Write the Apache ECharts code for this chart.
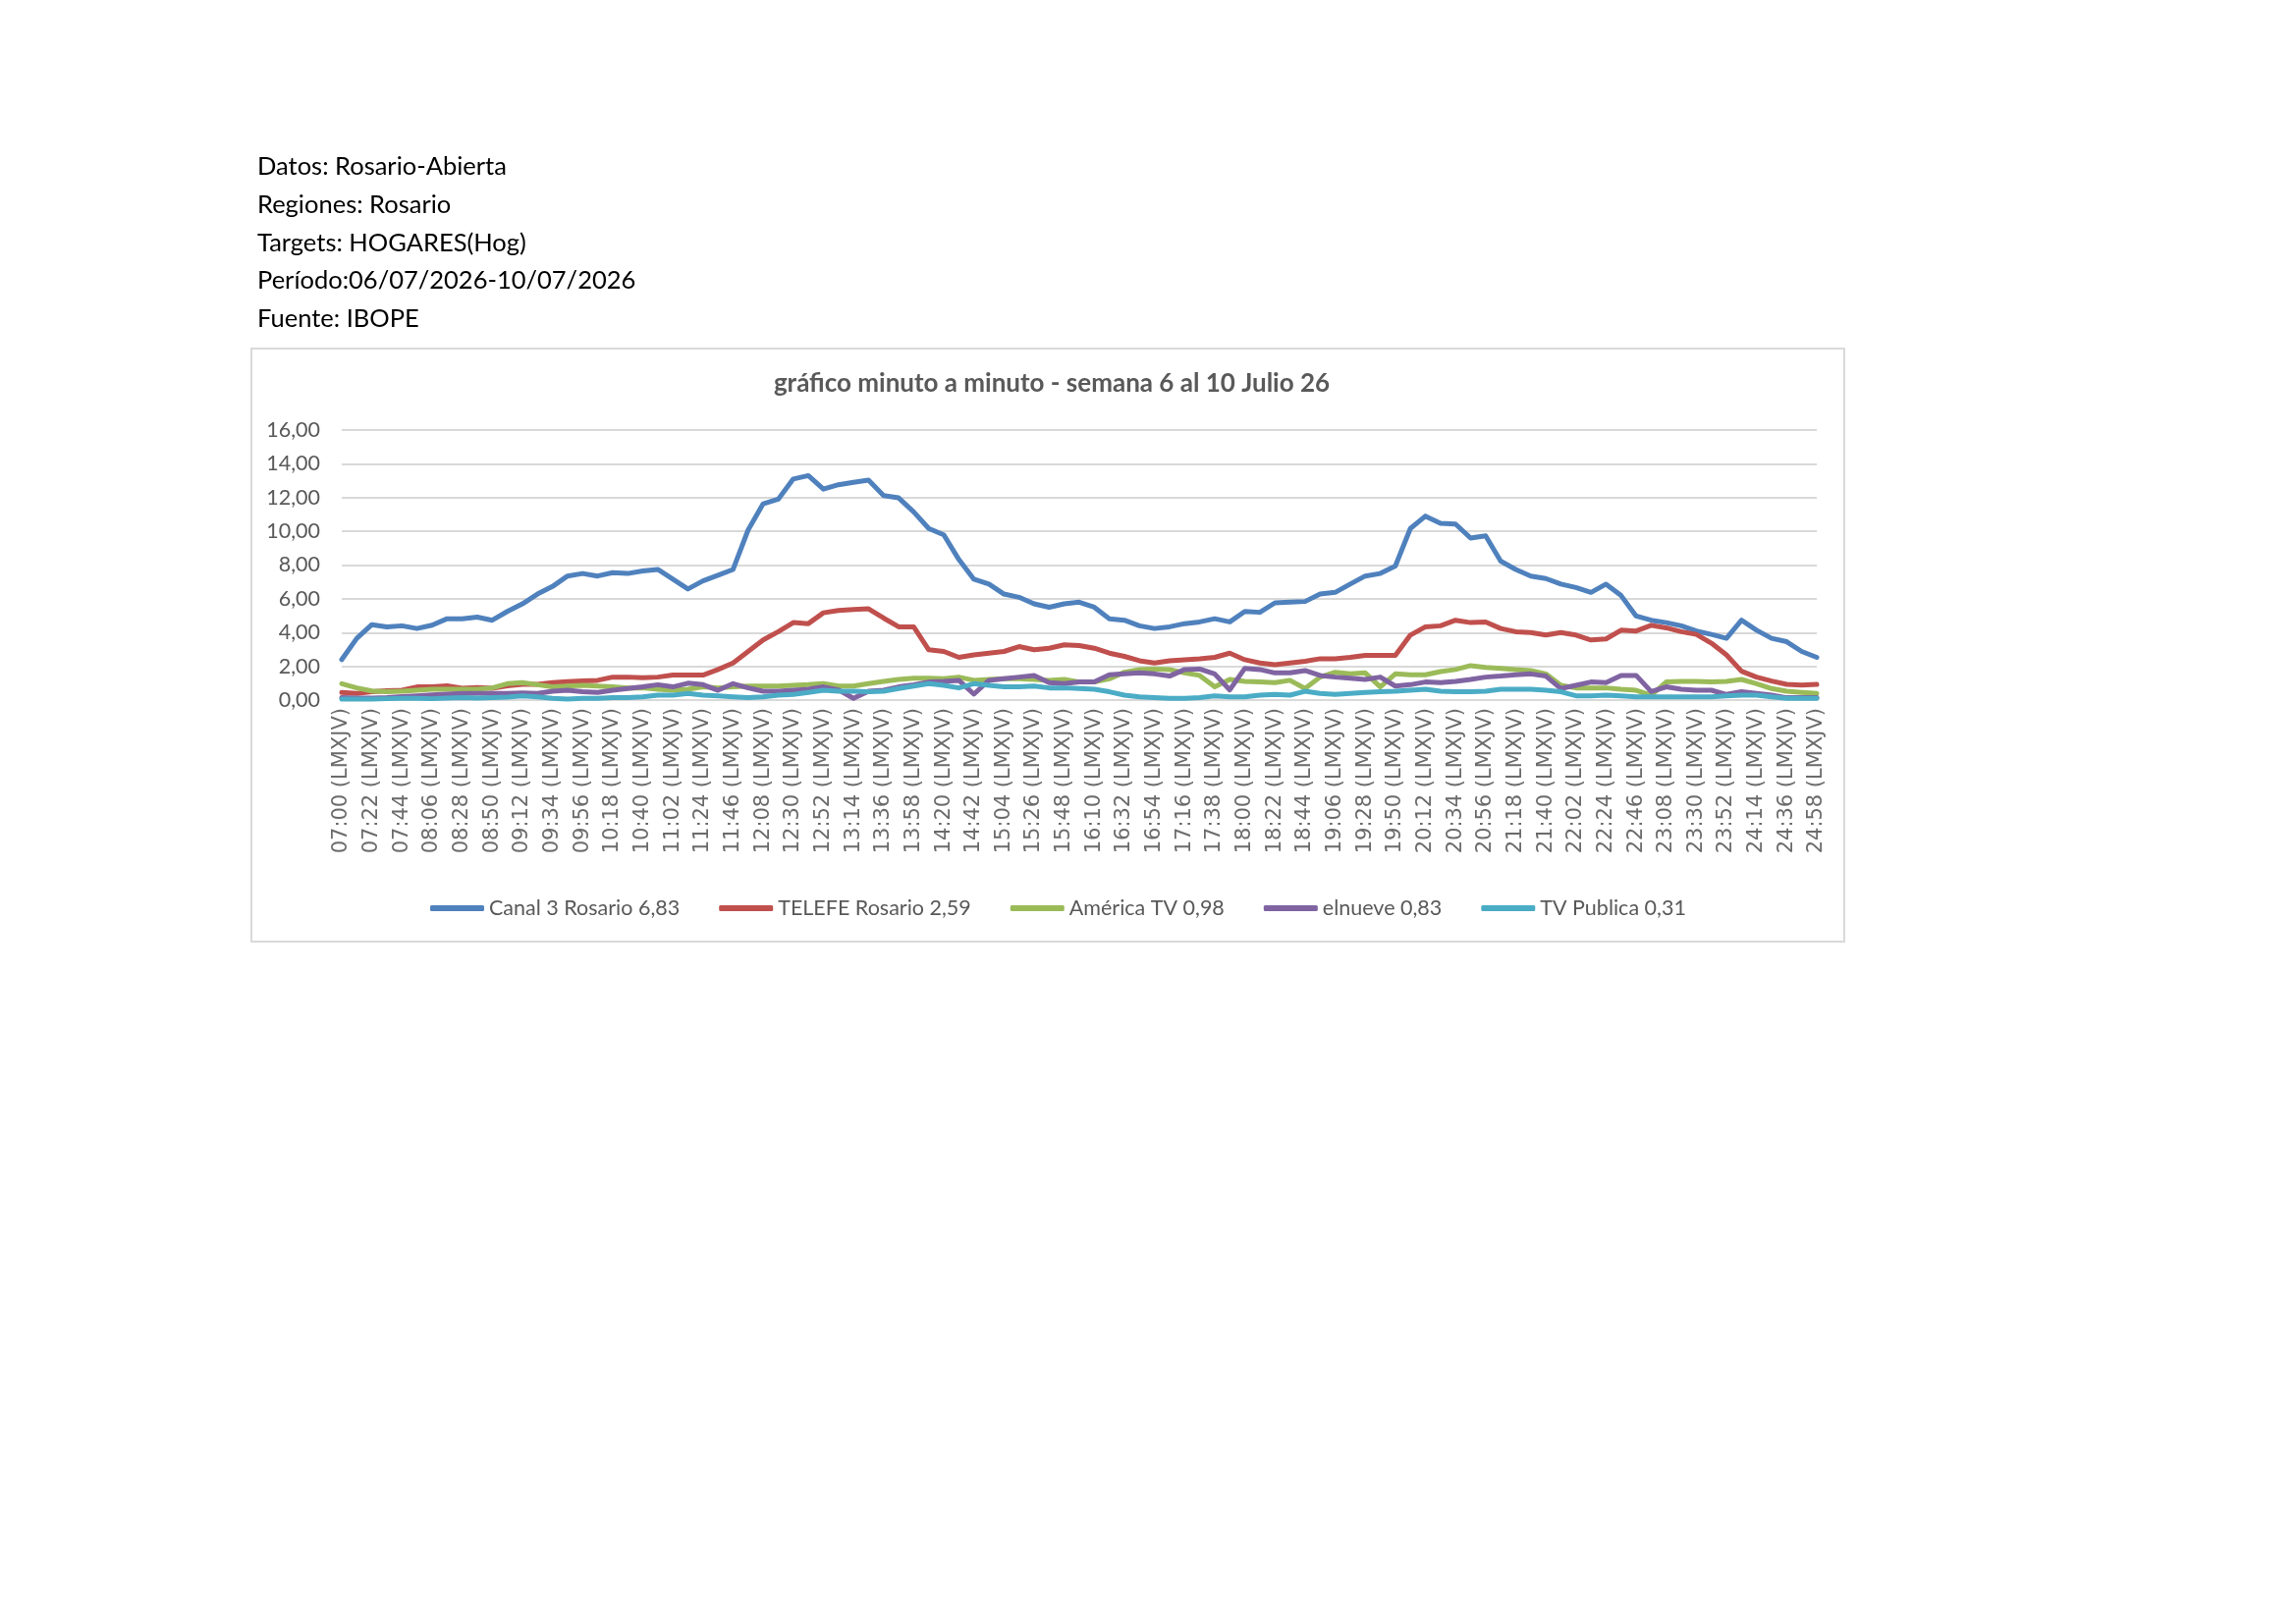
<!DOCTYPE html>
<html>
<head>
<meta charset="utf-8">
<title>gráfico minuto a minuto</title>
<script src="https://cdn.jsdelivr.net/npm/echarts@6/dist/echarts.min.js"></script>
<style>
  html, body { margin: 0; padding: 0; background: #fff; }
  #chart { width: 2338px; height: 1653px; }
</style>
</head>
<body>
<div id="chart"></div>
<script>
// minutes after 07:00, sampled every 11 minutes (07:00 .. 24:58)
const MINUTES = [
  0, 11, 22, 33, 44, 55, 66, 77, 88, 99,
  110, 121, 132, 143, 154, 165, 176, 187, 198, 209,
  220, 231, 242, 253, 264, 275, 286, 297, 308, 319,
  330, 341, 352, 363, 374, 385, 396, 407, 418, 429,
  440, 451, 462, 473, 484, 495, 506, 517, 528, 539,
  550, 561, 572, 583, 594, 605, 616, 627, 638, 649,
  660, 671, 682, 693, 704, 715, 726, 737, 748, 759,
  770, 781, 792, 803, 814, 825, 836, 847, 858, 869,
  880, 891, 902, 913, 924, 935, 946, 957, 968, 979,
  990, 1001, 1012, 1023, 1034, 1045, 1056, 1067, 1078
];

const CANAL3 = [
  2.4, 3.66, 4.47, 4.34, 4.4, 4.24, 4.44, 4.82, 4.82, 4.92,
  4.73, 5.25, 5.7, 6.28, 6.73, 7.35, 7.5, 7.35, 7.55, 7.5,
  7.65, 7.74, 7.16, 6.58, 7.06, 7.4, 7.74, 10.08, 11.63, 11.9,
  13.1, 13.3, 12.5, 12.76, 12.9, 13.03, 12.12, 11.98, 11.15, 10.17,
  9.79, 8.33, 7.16, 6.87, 6.28, 6.09, 5.7, 5.5, 5.7, 5.8,
  5.5, 4.82, 4.73, 4.4, 4.24, 4.34, 4.53, 4.63, 4.82, 4.63,
  5.25, 5.2, 5.76, 5.8, 5.84, 6.28, 6.38, 6.87, 7.35, 7.5,
  7.94, 10.17, 10.9, 10.47, 10.43, 9.6, 9.73, 8.23, 7.74, 7.35,
  7.2, 6.87, 6.67, 6.38, 6.87, 6.19, 4.98, 4.73, 4.59, 4.4,
  4.09, 3.89, 3.66, 4.73, 4.14, 3.66, 3.46, 2.88, 2.53
];

const TELEFE = [
  0.45, 0.39, 0.5, 0.55, 0.58, 0.78, 0.78, 0.84, 0.7, 0.74,
  0.7, 0.84, 0.93, 0.93, 1.03, 1.09, 1.13, 1.17, 1.36, 1.36,
  1.32, 1.36, 1.48, 1.48, 1.48, 1.81, 2.2, 2.88, 3.56, 4.05,
  4.59, 4.53, 5.17, 5.31, 5.37, 5.41, 4.86, 4.34, 4.34, 2.98,
  2.88, 2.53, 2.68, 2.78, 2.88, 3.17, 2.98, 3.07, 3.27, 3.23,
  3.07, 2.78, 2.59, 2.33, 2.2, 2.33, 2.39, 2.45, 2.53, 2.78,
  2.39, 2.2, 2.1, 2.2, 2.3, 2.45, 2.45, 2.53, 2.65, 2.65,
  2.65, 3.85, 4.34, 4.4, 4.73, 4.59, 4.63, 4.24, 4.05, 4.0,
  3.85, 4.0, 3.85, 3.56, 3.62, 4.14, 4.09, 4.43, 4.28, 4.05,
  3.89, 3.37, 2.68, 1.71, 1.36, 1.13, 0.93, 0.89, 0.93
];

const AMERICA = [
  0.97, 0.72, 0.54, 0.49, 0.52, 0.58, 0.64, 0.64, 0.64, 0.64,
  0.72, 0.97, 1.03, 0.91, 0.78, 0.83, 0.87, 0.83, 0.78, 0.72,
  0.72, 0.64, 0.58, 0.64, 0.78, 0.72, 0.78, 0.83, 0.83, 0.83,
  0.87, 0.91, 0.97, 0.83, 0.83, 0.97, 1.11, 1.22, 1.3, 1.3,
  1.26, 1.36, 1.17, 1.22, 1.26, 1.26, 1.22, 1.17, 1.22, 1.07,
  1.07, 1.26, 1.65, 1.81, 1.84, 1.81, 1.61, 1.46, 0.78, 1.22,
  1.11, 1.07, 1.03, 1.17, 0.68, 1.36, 1.65, 1.55, 1.61, 0.78,
  1.55, 1.5, 1.5, 1.69, 1.81, 2.04, 1.94, 1.88, 1.81, 1.75,
  1.55, 0.87, 0.72, 0.72, 0.72, 0.64, 0.58, 0.29, 1.07, 1.11,
  1.11, 1.07, 1.11, 1.22, 0.97, 0.68, 0.52, 0.45, 0.39
];

const ELNUEVE = [
  0.15, 0.12, 0.12, 0.15, 0.2, 0.25, 0.3, 0.35, 0.39, 0.4,
  0.4, 0.4, 0.42, 0.39, 0.52, 0.58, 0.49, 0.45, 0.58, 0.68,
  0.78, 0.91, 0.78, 1.0, 0.91, 0.58, 0.97, 0.72, 0.52, 0.52,
  0.58, 0.64, 0.78, 0.6, 0.1, 0.52, 0.58, 0.78, 0.91, 1.07,
  1.11, 1.17, 0.35, 1.17, 1.26, 1.36, 1.46, 1.03, 0.97, 1.07,
  1.07, 1.5, 1.55, 1.61, 1.55, 1.42, 1.81, 1.84, 1.55, 0.6,
  1.88, 1.81, 1.61, 1.61, 1.75, 1.46, 1.36, 1.3, 1.22, 1.36,
  0.83, 0.91, 1.07, 1.03, 1.11, 1.22, 1.36, 1.42, 1.5, 1.55,
  1.42, 0.68, 0.87, 1.07, 1.03, 1.46, 1.46, 0.5, 0.78, 0.64,
  0.58, 0.58, 0.33, 0.49, 0.39, 0.29, 0.14, 0.14, 0.14
];

const TVPUBLICA = [
  0.06, 0.06, 0.06, 0.08, 0.1, 0.1, 0.08, 0.12, 0.14, 0.12,
  0.14, 0.18, 0.25, 0.19, 0.1, 0.06, 0.1, 0.1, 0.14, 0.14,
  0.19, 0.29, 0.29, 0.39, 0.29, 0.25, 0.19, 0.14, 0.19, 0.29,
  0.33, 0.45, 0.58, 0.52, 0.52, 0.49, 0.52, 0.68, 0.83, 0.97,
  0.87, 0.72, 0.97, 0.87, 0.78, 0.78, 0.83, 0.72, 0.72, 0.68,
  0.64, 0.49, 0.29, 0.19, 0.14, 0.1, 0.1, 0.14, 0.25, 0.19,
  0.19, 0.29, 0.33, 0.29, 0.52, 0.39, 0.33, 0.39, 0.45, 0.49,
  0.52, 0.58, 0.64, 0.52, 0.49, 0.49, 0.52, 0.64, 0.64, 0.64,
  0.58, 0.49, 0.25, 0.25, 0.29, 0.25, 0.19, 0.19, 0.19, 0.19,
  0.19, 0.19, 0.25, 0.29, 0.29, 0.19, 0.1, 0.1, 0.1
];

const SERIES_NAMES = ['Canal 3 Rosario 6,83', 'TELEFE Rosario 2,59', 'América TV 0,98', 'elnueve 0,83', 'TV Publica 0,31'];
const SERIES_VALUES = [CANAL3, TELEFE, AMERICA, ELNUEVE, TVPUBLICA];
const COLORS = ['#4f81bd', '#c0504d', '#9bbb59', '#8064a2', '#4bacc6'];

const HEADER_LINES = [
  'Datos: Rosario-Abierta',
  'Regiones: Rosario',
  'Targets: HOGARES(Hog)',
  'Período:06/07/2026-10/07/2026',
  'Fuente: IBOPE'
];
const TITLE = 'gráfico minuto a minuto - semana 6 al 10 Julio 26';

const TEXT_FONT = 'Lato, "Open Sans", sans-serif';
const AXIS_GREY = '#595959';

function pad2(n) {
  return String(n).padStart(2, '0');
}

function minuteLabel(m) {
  const h = 7 + Math.floor(m / 60);
  return `${pad2(h)}:${pad2(m % 60)} (LMXJV)`;
}

function decimalComma(v) {
  return v.toFixed(2).replace('.', ',');
}

const chart = echarts.init(document.getElementById('chart'), null, { renderer: 'canvas' });

const headerGraphics = HEADER_LINES.map((line, i) => ({
  type: 'text',
  x: 262,
  y: 170 + i * 38.7,
  silent: true,
  style: {
    text: line,
    fill: '#000',
    fontSize: 25.5,
    fontFamily: TEXT_FONT,
    verticalAlign: 'middle'
  }
}));

chart.setOption({
  backgroundColor: '#fff',
  animation: false,
  color: COLORS,
  graphic: [
    ...headerGraphics,
    {
      type: 'rect',
      silent: true,
      z: -1,
      shape: { x: 256, y: 355, width: 1622, height: 604 },
      style: { fill: '#fff', stroke: '#d9d9d9', lineWidth: 2 }
    },
    {
      type: 'text',
      x: 1071,
      y: 391,
      silent: true,
      style: {
        text: TITLE,
        fill: AXIS_GREY,
        fontSize: 26,
        fontWeight: 'bold',
        fontFamily: TEXT_FONT,
        align: 'center',
        verticalAlign: 'middle'
      }
    }
  ],
  grid: { left: 348, right: 488, top: 438, bottom: 940, containLabel: false },
  legend: {
    left: 433,
    top: 909,
    icon: 'roundRect',
    itemWidth: 55,
    itemHeight: 6,
    itemGap: 40,
    textStyle: { color: AXIS_GREY, fontSize: 21.5, fontFamily: TEXT_FONT },
    data: SERIES_NAMES
  },
  xAxis: {
    type: 'value',
    min: 0,
    max: 1078,
    interval: 22,
    axisLine: { show: true, lineStyle: { color: '#d9d9d9', width: 2 } },
    axisTick: { show: false },
    splitLine: { show: false },
    axisLabel: {
      rotate: 90,
      margin: 8,
      color: '#6b6b6b',
      fontSize: 21,
      fontFamily: 'DejaVu Sans, sans-serif',
      formatter: (v) => minuteLabel(v)
    }
  },
  yAxis: {
    type: 'value',
    min: 0,
    max: 16,
    interval: 2,
    axisLine: { show: false },
    axisTick: { show: false },
    splitLine: { lineStyle: { color: '#d9d9d9', width: 2 } },
    axisLabel: {
      margin: 22,
      color: AXIS_GREY,
      fontSize: 21.5,
      fontFamily: TEXT_FONT,
      formatter: (v) => decimalComma(v)
    }
  },
  series: SERIES_NAMES.map((name, i) => ({
    name,
    type: 'line',
    showSymbol: false,
    symbol: 'none',
    lineStyle: { width: 5, color: COLORS[i], join: 'round', cap: 'round' },
    itemStyle: { color: COLORS[i] },
    data: MINUTES.map((m, j) => [m, SERIES_VALUES[i][j]])
  }))
});
</script>
</body>
</html>
